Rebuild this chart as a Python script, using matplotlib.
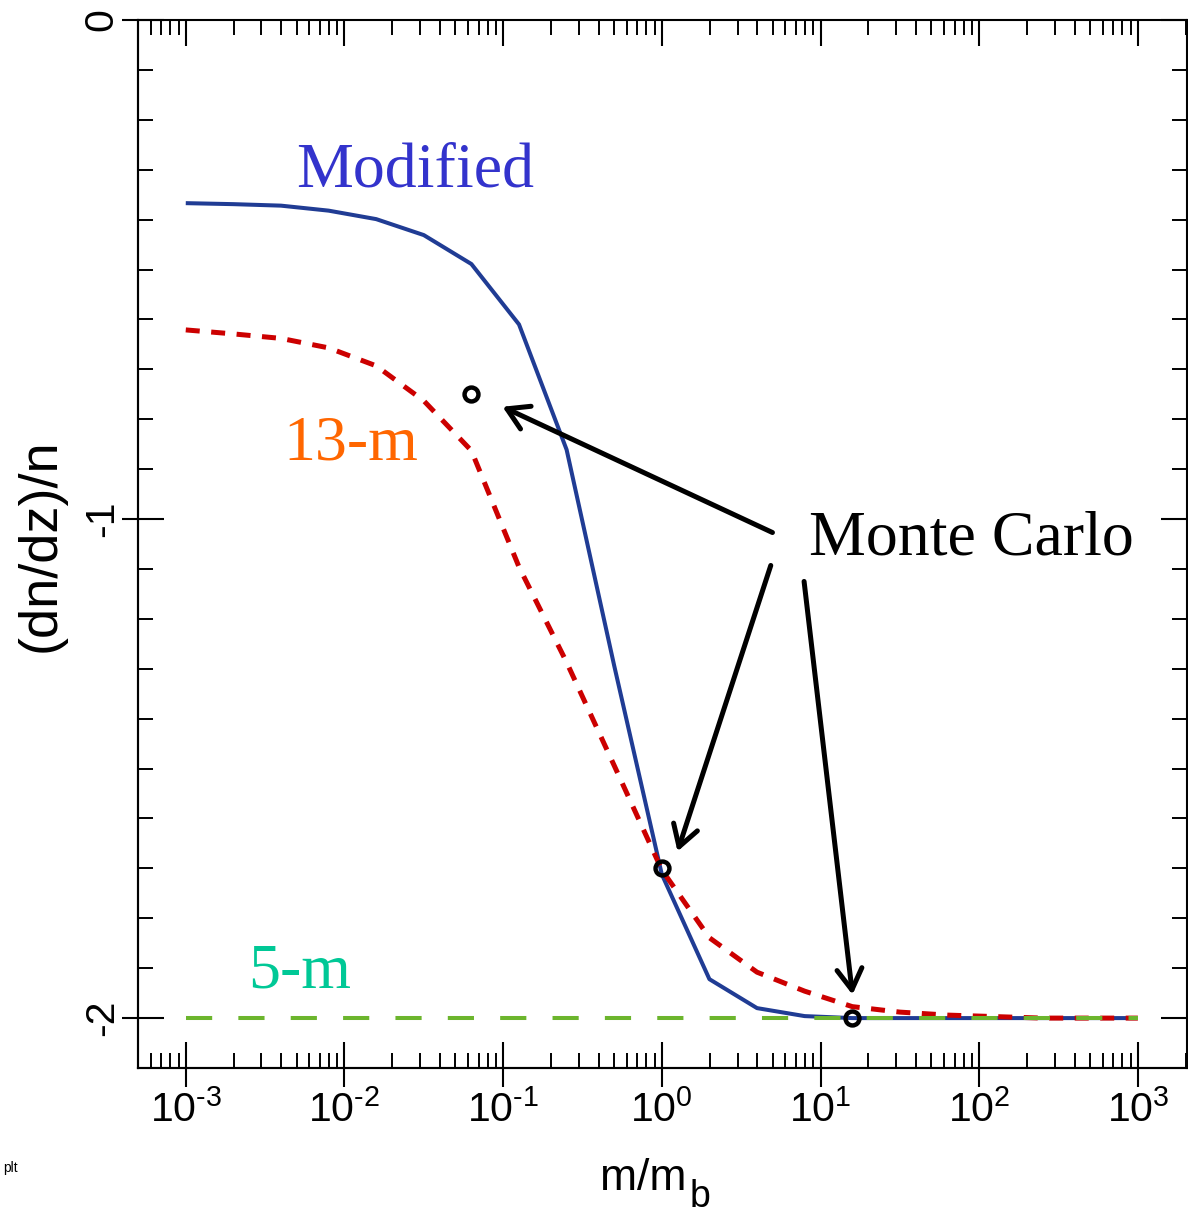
import matplotlib
matplotlib.use("Agg")
import matplotlib.pyplot as plt
from matplotlib import font_manager
from matplotlib.ticker import (FixedLocator, NullLocator, NullFormatter,
                               LogLocator, MultipleLocator)

# ---------------- data ----------------
m_ratio = [1.0e-3, 1.995e-3, 3.981e-3, 7.943e-3, 1.585e-2, 3.162e-2, 6.310e-2,
           0.1259, 0.2512, 0.5012, 1.0, 1.995, 3.981, 7.943, 15.85, 31.62,
           63.10, 125.9, 251.2, 501.2, 1000.0]
modified = [-0.367, -0.369, -0.372, -0.382, -0.399, -0.431, -0.489, -0.610,
            -0.861, -1.294, -1.712, -1.922, -1.980, -1.996, -2.0, -2.0, -2.0,
            -2.0, -2.0, -2.0, -2.0]
model_13m = [-0.621, -0.629, -0.638, -0.657, -0.693, -0.763, -0.863, -1.096,
             -1.287, -1.494, -1.703, -1.839, -1.908, -1.946, -1.977, -1.988,
             -1.994, -1.997, -2.0, -2.0, -2.0]
model_5m = [-2.0, -2.0, -2.0, -2.0, -2.0, -2.0, -2.0, -2.0, -2.0, -2.0, -2.0,
            -2.0, -2.0, -2.0, -2.0, -2.0, -2.0, -2.0, -2.0, -2.0, -2.0]
mc_ratio = [0.0631, 1.0, 15.85]
mc_value = [-0.75, -1.70, -2.0]

xtick_values = [1e-3, 1e-2, 1e-1, 1e0, 1e1, 1e2, 1e3]
xtick_labels = [r'$\mathdefault{10^{\text{-}3}}$', r'$\mathdefault{10^{\text{-}2}}$',
                r'$\mathdefault{10^{\text{-}1}}$', r'$\mathdefault{10^{0}}$',
                r'$\mathdefault{10^{1}}$', r'$\mathdefault{10^{2}}$',
                r'$\mathdefault{10^{3}}$']
ytick_values = [0, -1, -2]
ytick_labels = ['0', '-1', '-2']

# ---------------- fonts ----------------
names = {f.name for f in font_manager.fontManager.ttflist}
narrow = 'Liberation Sans Narrow' in names
tick_family = 'Liberation Sans Narrow' if narrow else 'Liberation Sans'
tick_size = 30 if narrow else 29.5
plt.rcParams['font.family'] = [tick_family, 'DejaVu Sans']
plt.rcParams['mathtext.fontset'] = 'custom'
plt.rcParams['mathtext.rm'] = tick_family
plt.rcParams['axes.linewidth'] = 1.5

W, H = 1188, 1216
fig = plt.figure(figsize=(W / 100, H / 100), dpi=100)
L, R, T, B = 138, 1187, 20, 1068
ax = fig.add_axes([L / W, 1 - B / H, (R - L) / W, (B - T) / H])
ax.set_xscale('log')
ax.set_xlim(5e-4, 2040)
ax.set_ylim(-2.1, 0)

# main axes: inward ticks on all four sides
ax.xaxis.set_major_locator(FixedLocator(xtick_values))
ax.xaxis.set_minor_locator(LogLocator(base=10, subs=range(2, 10), numticks=100))
ax.xaxis.set_major_formatter(NullFormatter())
ax.xaxis.set_minor_formatter(NullFormatter())
ax.yaxis.set_major_locator(FixedLocator(ytick_values))
ax.yaxis.set_minor_locator(MultipleLocator(0.1))
ax.yaxis.set_major_formatter(NullFormatter())
ax.tick_params(which='major', direction='in', length=18.7, width=1.5,
               top=True, right=True, bottom=True, left=True,
               labelbottom=False, labelleft=False)
ax.tick_params(which='minor', direction='in', length=11, width=1.4,
               top=True, right=True, bottom=True, left=True)

# outward parts of bottom / left major ticks and the labels
secx = ax.secondary_xaxis('bottom')
secx.set_xticks(xtick_values, xtick_labels)
secx.xaxis.set_minor_locator(NullLocator())
secx.tick_params(which='major', direction='out', length=13.7, width=1.5,
                 pad=2, labelsize=tick_size)
secx.tick_params(which='minor', length=0)

secy = ax.secondary_yaxis('left')
secy.set_yticks(ytick_values, ytick_labels, rotation=90, va='center')
secy.yaxis.set_minor_locator(NullLocator())
secy.tick_params(which='major', direction='out', length=11.5, width=1.5,
                 pad=1, labelsize=tick_size)
secy.tick_params(which='minor', length=0)

# ---------------- curves ----------------
ax.plot(m_ratio, modified, color='#203c94', lw=2.9, solid_capstyle='butt',
        zorder=3)
ax.plot(m_ratio, model_13m, color='#cc0000', lw=3.6, dashes=(2.8, 2.3),
        zorder=4)
ax.plot(m_ratio, model_5m, color='#6cb52d', lw=2.9, dashes=(6.5, 6.5),
        zorder=5)
ax.plot(mc_ratio, mc_value, ls='none', marker='o', ms=10, mfc='none',
        mec='black', mew=3.2, zorder=6)

# ---------------- annotations ----------------
serif = 'Liberation Serif'
ax.text(0.00494, -0.3346, 'Modified', color='#3333cc', fontsize=46,
        family=serif, ha='left', va='baseline')
ax.text(0.00415, -0.8815, '13-m', color='#ff6600', fontsize=46,
        family=serif, ha='left', va='baseline')
ax.text(0.00246, -1.939, '5-m', color='#00c896', fontsize=46,
        family=serif, ha='left', va='baseline')
ax.text(8.44, -1.072, 'Monte Carlo', color='black', fontsize=46,
        family=serif, ha='left', va='baseline')

arrow_kw = dict(arrowstyle='->,head_length=15,head_width=9',
                mutation_scale=1, lw=3.6, color='black',
                shrinkA=0, shrinkB=0)
ax.annotate('', xy=(0.0991, -0.775), xytext=(4.98, -1.027),
            arrowprops=arrow_kw, zorder=7)
ax.annotate('', xy=(1.256, -1.666), xytext=(4.86, -1.093),
            arrowprops=arrow_kw, zorder=7)
ax.annotate('', xy=(15.9, -1.953), xytext=(7.88, -1.125),
            arrowprops=arrow_kw, zorder=7)

# ---------------- axis titles ----------------
sans = 'Liberation Sans'
fig.text(41 / W, 1 - 545 / H, '(dn/dz)/n', rotation=90, fontsize=39,
         family=sans, ha='center', va='center')
fig.text(600 / W, 1 - 1190 / H, 'm/m', fontsize=32, family=sans,
         ha='left', va='baseline')
fig.text(690 / W, 1 - 1207 / H, 'b', fontsize=27, family=sans,
         ha='left', va='baseline')
fig.text(3 / W, 1 - 1172 / H, 'plt', fontsize=10, family=sans,
         ha='left', va='baseline')

fig.savefig('out.png', dpi=100)
